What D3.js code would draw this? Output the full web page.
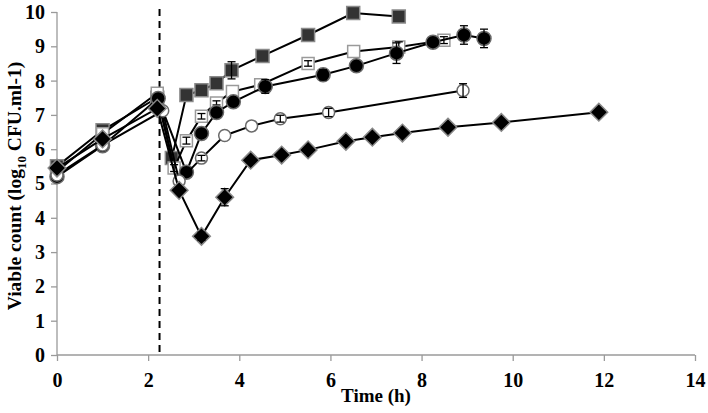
<!DOCTYPE html>
<html><head><meta charset="utf-8">
<script src="https://cdn.jsdelivr.net/npm/d3@7"></script>
<style>body{margin:0;background:#fff}</style>
</head><body>
<svg id="chart" width="708" height="413"></svg>
<script>
// ---- data ----
const xTicks = [0, 2, 4, 6, 8, 10, 12, 14];
const yTicks = [0, 1, 2, 3, 4, 5, 6, 7, 8, 9, 10];
const dashedTime = 2.25;

const tDarkSq = [0, 1, 2.2, 2.52, 2.84, 3.17, 3.5, 3.83, 4.51, 5.51, 6.5, 7.5];
const vDarkSq = [5.5, 6.55, 7.5, 5.74, 7.58, 7.72, 7.92, 8.3, 8.72, 9.33, 9.97, 9.87];
const eDarkSq = [0, 0, 0, 0, 0, 0, 0, 0.25, 0, 0, 0, 0];

const tOpenSq = [0, 1, 2.2, 2.57, 2.84, 3.17, 3.5, 3.85, 4.47, 5.51, 6.51, 7.5, 8.49];
const vOpenSq = [5.35, 6.45, 7.63, 5.45, 6.25, 6.96, 7.35, 7.68, 7.88, 8.5, 8.85, 8.98, 9.18];
const eOpenSq = [0, 0, 0, 0.1, 0.1, 0.08, 0.06, 0, 0, 0.08, 0, 0.15, 0.1];

const tCircle = [0, 1, 2.22, 2.84, 3.17, 3.5, 3.87, 4.57, 5.84, 6.57, 7.45, 8.25, 8.93, 9.37];
const vCircle = [5.2, 6.1, 7.48, 5.33, 6.46, 7.07, 7.38, 7.83, 8.17, 8.43, 8.8, 9.12, 9.33, 9.23];
const eCircle = [0, 0, 0, 0, 0, 0, 0, 0.2, 0.15, 0, 0.3, 0, 0.27, 0.27];

const tOpenCi = [0, 1, 2.32, 2.68, 3.17, 3.68, 4.27, 4.9, 5.96, 8.91];
const vOpenCi = [5.25, 6.12, 7.12, 5.07, 5.74, 6.4, 6.68, 6.89, 7.07, 7.71];
const eOpenCi = [0, 0, 0, 0, 0.08, 0, 0, 0.1, 0.12, 0.2];

const tDiamond = [0, 1, 2.2, 2.68, 3.17, 3.68, 4.25, 4.93, 5.51, 6.34, 6.92, 7.58, 8.58, 9.75, 11.89];
const vDiamond = [5.45, 6.3, 7.19, 4.8, 3.46, 4.6, 5.68, 5.83, 5.98, 6.23, 6.35, 6.47, 6.64, 6.78, 7.08];
const eDiamond = [0, 0, 0, 0, 0.12, 0.25, 0, 0, 0, 0, 0, 0, 0, 0, 0];

// ---- layout ----
const svg = d3.select("#chart");
const mLeft = 57, mRight = 695, mTop = 12, mBottom = 355;
const x = d3.scaleLinear().domain([0, 14]).range([mLeft, mRight]);
const y = d3.scaleLinear().domain([0, 10]).range([mBottom, mTop]);
const axisColor = "#9a9a9a";
const font = "'Liberation Serif','Times New Roman',serif";

// axes
const yAxis = svg.append("g").attr("transform", `translate(${mLeft},0)`)
  .call(d3.axisLeft(y).tickValues(yTicks).tickSize(6).tickPadding(6).tickFormat(d3.format("d")));
const xAxis = svg.append("g").attr("transform", `translate(0,${mBottom})`)
  .call(d3.axisBottom(x).tickValues(xTicks).tickSize(6).tickPadding(12).tickFormat(d3.format("d")));
[xAxis, yAxis].forEach(g => {
  g.selectAll("path").attr("stroke", axisColor).attr("stroke-width", 1.3);
  g.selectAll("line").attr("stroke", axisColor).attr("stroke-width", 1.3);
  g.selectAll("text").attr("fill", "#000").style("font-family", font)
    .style("font-weight", "bold").style("font-size", "20px");
});
yAxis.select(".domain").attr("d", `M0,${mBottom}V${mTop}`);
xAxis.select(".domain").attr("d", `M${mLeft},0H${mRight}`);

// dashed line
svg.append("line")
  .attr("x1", x(dashedTime)).attr("x2", x(dashedTime))
  .attr("y1", y(10) - 3).attr("y2", mBottom - 2)
  .attr("stroke", "#000").attr("stroke-width", 2).attr("stroke-dasharray", "7,5");

// titles
svg.append("text").attr("x", x(7)).attr("y", 402).attr("text-anchor", "middle")
  .style("font-family", font).style("font-weight", "bold").style("font-size", "19px")
  .text("Time (h)");
const yt = svg.append("text").attr("transform", `translate(21,186) rotate(-90)`)
  .attr("text-anchor", "middle")
  .style("font-family", font).style("font-weight", "bold").style("font-size", "19.5px");
yt.append("tspan").text("Viable count (log");
yt.append("tspan").attr("dy", 5).style("font-size", "13px").text("10");
yt.append("tspan").attr("dy", -5).text(" CFU.ml-1)");

// series
const series = [
  {t: tDarkSq, v: vDarkSq, e: eDarkSq, shape: "square", fill: "#333", stroke: "#8a8a8a", size: 13},
  {t: tOpenSq, v: vOpenSq, e: eOpenSq, shape: "square", fill: "#fff", stroke: "#9a9a9a", size: 12},
  {t: tCircle, v: vCircle, e: eCircle, shape: "circle", fill: "#000", stroke: "#6a6a6a", size: 14},
  {t: tOpenCi, v: vOpenCi, e: eOpenCi, shape: "circle", fill: "#fff", stroke: "#6a6a6a", size: 12},
  {t: tDiamond, v: vDiamond, e: eDiamond, shape: "diamond", fill: "#000", stroke: "#888", size: 12.5}
];

const line = d3.line().x(d => x(d.t)).y(d => y(d.v));
series.forEach(s => {
  const pts = s.t.map((t, i) => ({t, v: s.v[i], e: s.e[i]}));
  const g = svg.append("g");
  g.append("path").datum(pts).attr("d", line).attr("fill", "none")
    .attr("stroke", "#000").attr("stroke-width", 2);
  let sym;
  if (s.shape === "circle") sym = d3.symbol(d3.symbolCircle, Math.PI * (s.size / 2) ** 2);
  else sym = d3.symbol(d3.symbolSquare, s.size * s.size);
  g.selectAll("path.m").data(pts).enter().append("path").attr("class", "m")
    .attr("d", sym)
    .attr("transform", d => `translate(${x(d.t)},${y(d.v)})` + (s.shape === "diamond" ? " rotate(45)" : ""))
    .attr("fill", s.fill).attr("stroke", s.stroke).attr("stroke-width", 1.5);
  const eb = g.selectAll("g.eb").data(pts.filter(d => d.e > 0)).enter().append("g");
  eb.append("line").attr("x1", d => x(d.t)).attr("x2", d => x(d.t))
    .attr("y1", d => y(d.v - d.e)).attr("y2", d => y(d.v + d.e));
  eb.append("line").attr("x1", d => x(d.t) - 4).attr("x2", d => x(d.t) + 4)
    .attr("y1", d => y(d.v - d.e)).attr("y2", d => y(d.v - d.e));
  eb.append("line").attr("x1", d => x(d.t) - 4).attr("x2", d => x(d.t) + 4)
    .attr("y1", d => y(d.v + d.e)).attr("y2", d => y(d.v + d.e));
  eb.selectAll("line").attr("stroke", "#000").attr("stroke-width", 1.3);
});
</script>
</body></html>
